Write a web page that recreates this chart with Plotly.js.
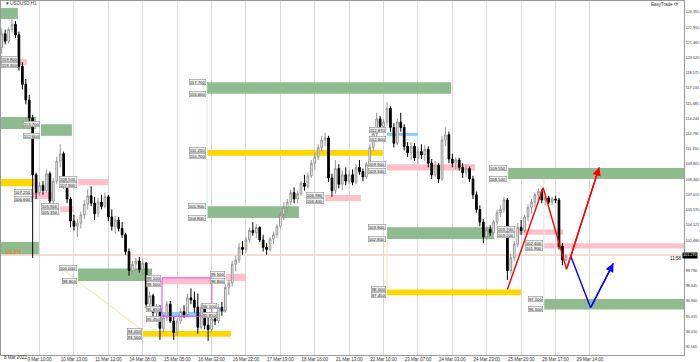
<!DOCTYPE html>
<html><head><meta charset="utf-8">
<script src="https://cdn.plot.ly/plotly-3.0.1.min.js"></script>
<style>html,body{margin:0;padding:0;background:#fff;overflow:hidden}#chart{width:700px;height:362px}</style>
</head><body><div id="chart"></div>
<script>
// ---- candle data (H1 chart, sampled) ----
const openP = [121.0,122.3,121.6,122.7,123.2,122.2,119.2,117.5,116.0,114.3,
108.9,107.2,107.9,107.4,109.0,106.4,108.3,110.2,110.9,108.0,
106.6,104.5,104.0,104.3,105.1,106.1,106.9,106.2,105.2,106.3,
105.9,106.8,104.9,104.0,104.6,103.8,103.2,101.6,99.8,100.4,
100.7,99.9,100.5,96.6,97.4,95.8,96.3,94.3,95.3,96.6,
95.0,93.9,95.0,95.9,95.6,97.2,97.0,96.3,94.4,96.3,
94.6,94.2,95.2,95.0,96.3,96.0,98.2,98.6,100.4,100.8,
102.0,101.8,102.7,103.6,103.4,103.9,102.7,102.0,101.8,102.8,
103.2,104.0,105.1,105.8,106.3,107.2,106.6,107.1,108.1,107.8,
108.8,110.0,110.6,111.5,112.2,112.4,108.6,107.4,109.5,108.0,
108.9,108.3,108.9,108.2,109.6,109.2,108.7,109.9,111.5,112.8,
114.2,113.5,113.9,115.2,113.4,111.9,113.9,113.4,111.6,111.0,
111.6,110.5,111.1,110.8,111.3,110.0,108.9,109.8,108.5,112.2,
112.7,110.4,110.0,110.3,109.6,109.1,109.5,108.5,107.0,105.6,
104.4,103.0,103.7,103.4,104.4,105.3,105.6,106.5,99.8,101.0,
102.3,103.9,103.6,104.9,105.8,106.3,107.0,107.3,106.5,106.7,
106.3,106.6,106.5,102.1,100.8];
const highP = [122.8,122.7,122.9,123.7,123.5,122.5,119.6,118.0,116.5,114.6,
109.1,108.2,108.3,109.4,109.2,108.6,110.6,111.8,111.1,108.3,
106.8,105.1,104.7,105.4,106.5,107.5,107.8,106.8,106.7,107.0,
107.2,107.0,105.6,105.0,104.9,104.4,103.4,101.9,100.7,101.0,
101.1,100.9,100.6,97.8,97.6,96.6,96.5,95.6,96.9,96.9,
95.4,95.3,96.2,96.5,97.6,98.1,97.8,97.6,96.7,96.5,
95.3,95.5,95.7,96.6,96.8,98.5,98.9,100.7,101.2,102.4,
102.6,103.0,103.9,104.4,104.2,104.0,103.2,102.4,103.0,103.5,
104.2,105.4,106.3,106.6,107.5,107.7,107.4,108.3,108.9,109.1,
110.3,111.0,111.8,112.6,112.9,112.6,109.0,110.3,109.9,109.3,
109.6,109.3,109.4,109.9,110.3,109.5,110.1,111.8,113.2,114.8,
114.5,114.2,115.8,115.4,113.8,114.2,114.8,113.7,112.0,112.0,
111.9,111.5,111.8,111.7,111.6,110.4,110.2,110.0,112.6,113.4,
113.0,110.9,110.6,110.5,110.0,109.9,109.7,108.8,107.3,106.0,
104.7,104.0,104.1,104.6,105.6,106.0,106.8,106.7,101.4,102.6,
104.3,104.6,105.1,106.1,106.6,107.2,107.6,107.5,106.9,106.9,
106.8,106.9,106.7,102.4,101.4];
const lowP = [120.4,121.3,121.4,122.4,121.9,118.8,117.0,115.6,113.9,101.0,
106.6,106.9,107.0,107.2,105.9,106.1,108.0,109.6,107.6,106.2,
103.9,103.6,103.0,103.8,104.7,105.6,105.9,104.6,104.9,105.6,
105.7,104.5,103.6,103.3,103.5,102.9,101.3,99.3,99.5,99.8,
99.6,99.4,96.2,96.0,95.4,95.2,93.2,93.9,95.0,94.8,
93.2,93.6,94.7,95.3,95.4,96.6,95.8,93.8,94.2,94.2,
93.1,93.9,94.6,94.8,95.5,95.8,97.5,98.3,99.7,100.5,
101.3,101.5,102.4,103.1,102.9,102.5,101.6,101.3,101.6,102.3,
102.9,103.8,104.6,105.3,106.0,106.2,106.2,106.9,107.4,107.6,
108.6,109.4,110.3,111.1,111.6,108.2,106.8,107.1,107.6,107.4,
107.9,108.0,107.9,108.0,108.9,108.3,108.5,109.7,111.2,112.5,
113.1,113.1,113.6,113.0,111.5,111.7,113.0,111.2,110.6,110.3,
110.2,109.9,110.4,110.2,109.6,108.5,108.7,108.1,108.3,111.6,
110.0,109.6,109.4,109.3,108.6,108.7,108.2,106.6,105.3,104.0,
102.4,102.7,103.1,103.2,104.1,104.9,105.3,98.9,99.5,100.7,
102.0,103.2,103.4,104.5,105.2,105.8,106.5,106.2,106.0,106.1,
106.0,106.2,101.8,100.3,100.7];
const closeP = [122.3,121.6,122.7,123.2,122.2,119.2,117.5,116.0,114.3,108.9,
107.2,107.9,107.4,109.0,106.4,108.3,110.2,110.9,108.0,106.6,
104.5,104.0,104.3,105.1,106.1,106.9,106.2,105.2,106.3,105.9,
106.8,104.9,104.0,104.6,103.8,103.2,101.6,99.8,100.4,100.7,
99.9,100.5,96.6,97.4,95.8,96.3,94.3,95.3,96.6,95.0,
93.9,95.0,95.9,95.6,97.2,97.0,96.3,94.4,96.3,94.6,
94.2,95.2,95.0,96.3,96.0,98.2,98.6,100.4,100.8,102.0,
101.8,102.7,103.6,103.4,103.9,102.7,102.0,101.8,102.8,103.2,
104.0,105.1,105.8,106.3,107.2,106.6,107.1,108.1,107.8,108.8,
110.0,110.6,111.5,112.2,112.4,108.6,107.4,109.5,108.0,108.9,
108.3,108.9,108.2,109.6,109.2,108.7,109.9,111.5,112.8,114.2,
113.5,113.9,115.2,113.4,111.9,113.9,113.4,111.6,111.0,111.6,
110.5,111.1,110.8,111.3,110.0,108.9,109.8,108.5,112.2,112.7,
110.4,110.0,110.3,109.6,109.1,109.5,108.5,107.0,105.6,104.4,
103.0,103.7,103.4,104.4,105.3,105.6,106.5,99.8,101.0,102.3,
103.9,103.6,104.9,105.8,106.3,107.0,107.3,106.5,106.7,106.3,
106.6,106.5,102.1,100.8,101.2];

// ---- axis labels ----
const priceTicks = [124.355,122.910,121.465,120.020,118.575,117.130,115.685,114.240,112.795,111.350,
109.905,108.460,107.015,105.570,104.125,102.680,99.790,98.345,96.900,95.455,94.010,92.565];
const dateTickBars = [11,21,31,41,51,61,71,81,91,101,111,121,131,141,151,161,171];
const dateLabels = ["9 Mar 10:00","10 Mar 13:00","11 Mar 12:00","14 Mar 08:00","15 Mar 05:00","16 Mar 02:00",
"16 Mar 22:00","17 Mar 19:00","18 Mar 16:00","21 Mar 13:00","22 Mar 10:00","23 Mar 07:00",
"24 Mar 03:00","24 Mar 23:00","25 Mar 20:00","28 Mar 17:00","29 Mar 14:00"];
const firstDateLabel = "8 Mar 2022";
const symbolTitle = "USOUSD,H1";
const bidPrice = 101.27;

// ---- supply / demand zones ----
const zoneX0 = [-0.5,1.8,-0.5,11.4,-0.5,9.1,22.2,17,-0.5,22.2,46.6,46.6,62.9,65.2,41.1,59.7,59.7,59.7,94,112,112,147.2,112,149.5,157.6,112,157.6];
const zoneX1 = [4.7,7.3,10,20.4,9.4,15.2,30.9,21,10.8,43.7,61.1,61.1,64.9,71,66.7,130.6,110.8,86.4,104.4,121,137.6,198.4,143.1,163.2,198.4,151,198.4];
const zoneTop = [124.75,119.9,114.4,113.7,108.5,107.25,108.5,105.9,102.5,100.0,99.1,95.85,96.1,99.5,94.05,117.7,111.25,105.9,106.98,112.87,109.9,109.55,103.9,103.7,102.4,98.0,97.1];
const zoneBot = [123.7,119.3,113.25,112.6,107.8,106.6,107.9,105.35,101.35,98.8,98.5,95.45,95.85,98.8,93.5,116.6,110.7,104.8,106.4,112.6,109.3,108.5,102.8,103.2,101.9,97.45,96.1];
const zoneKind = ['g','p','g','g','y','p','p','p','g','g','p','b','b','p','y','g','y','g','p','b','p','g','g','p','p','y','g'];
const zoneLabeled = [0,1,0,1,0,1,1,1,0,1,1,1,1,1,1,1,1,1,1,1,1,1,1,1,1,1,1];

// magenta box
const boxX = [46.6,61.1]; const boxY = [95.45,99.1];

// faint helper lines
const faintX0 = [16.9,112,59.7,157.6];
const faintY0 = [100.1,102.8,116.6,108.5];
const faintX1 = [41.1,112,59.7,157.6];
const faintY1 = [94.05,98.0,104.8,96.1];
const faintKind = ['y','y','g','g'];

// projection paths
const redX = [147.0,157.4,164.2,173.7];
const redY = [98.0,107.67,99.91,109.61];
const blueX = [165.4,171.2,177.8];
const blueY = [101.18,96.26,100.48];

// ---- styles ----
const zoneColor = {g:'#8fbc8f', p:'#ffc0cb', y:'#ffd700', b:'#87cefa'};
const faintColor = {y:'#f6e6a6', g:'#dcebdc'};
const FONT = 'Liberation Sans, Arial, sans-serif';
const X_RANGE = [-0.21, 198.34];
const PX_PER_PRICE = 354 / (125.418 - 91.768);
const PX_PER_BAR = 683 / (X_RANGE[1] - X_RANGE[0]);

const bars = openP.map((_, i) => i);

const traces = [{
  type:'candlestick', x: bars, open: openP, high: highP, low: lowP, close: closeP,
  increasing:{line:{color:'#959595', width:1}, fillcolor:'#ffffff'},
  decreasing:{line:{color:'#000000', width:1}, fillcolor:'#000000'},
  whiskerwidth:0, hoverinfo:'skip', showlegend:false
},{
  type:'scatter', mode:'lines', x: redX, y: redY, line:{color:'#ff0000', width:1.4}, hoverinfo:'skip', showlegend:false
},{
  type:'scatter', mode:'lines', x: blueX, y: blueY, line:{color:'#0000ff', width:1.4}, hoverinfo:'skip', showlegend:false
}];

const shapes = [];
zoneX0.forEach((x0, k) => {
  shapes.push({type:'rect', xref:'x', yref:'y', x0: x0, x1: zoneX1[k], y0: zoneBot[k], y1: zoneTop[k],
    fillcolor: zoneColor[zoneKind[k]], line:{width:0}, layer:'between'});
});
shapes.push({type:'rect', xref:'x', yref:'y', x0: boxX[0], x1: boxX[1], y0: boxY[0], y1: boxY[1],
  fillcolor:'rgba(0,0,0,0)', line:{color:'#ff33ff', width:1}, layer:'above'});
faintX0.forEach((x0, k) => {
  shapes.push({type:'line', xref:'x', yref:'y', x0: x0, y0: faintY0[k], x1: faintX1[k], y1: faintY1[k],
    line:{color: faintColor[faintKind[k]], width:1}, layer:'between'});
});
shapes.push({type:'line', xref:'paper', yref:'y', x0:0, x1:1, y0: bidPrice, y1: bidPrice,
  line:{color:'#f4b6a6', width:1}, layer:'between'});

const annotations = [];
zoneX0.forEach((x0, k) => {
  if (!zoneLabeled[k]) return;
  const thin = (zoneTop[k] - zoneBot[k]) * PX_PER_PRICE < 5;
  // labels that would run past the left edge are pinned inside it
  const nearEdge = (x0 - X_RANGE[0]) * PX_PER_BAR < 15;
  [zoneTop[k], zoneBot[k]].forEach((v, j) => {
    annotations.push({x: nearEdge ? 0 : x0, y: v, xref: nearEdge ? 'paper' : 'x', yref:'y', text: v.toFixed(3), showarrow:false,
      xanchor: nearEdge ? 'left' : 'right', yanchor: thin ? (j === 0 ? 'bottom' : 'top') : 'middle', xshift: nearEdge ? 0 : -1,
      font:{size:4.3, family:FONT, color:'#222'}, bgcolor:'#eeeeee', bordercolor:'#808080', borderwidth:0.5, borderpad:0.2});
  });
});
// arrow heads
const nR = redX.length - 1, nB = blueX.length - 1;
annotations.push({x: redX[nR], y: redY[nR], ax: redX[nR-1], ay: redY[nR-1], xref:'x', yref:'y', axref:'x', ayref:'y',
  text:'', showarrow:true, arrowhead:2, arrowsize:1.2, arrowwidth:1.4, arrowcolor:'#ff0000'});
annotations.push({x: blueX[nB], y: blueY[nB], ax: blueX[nB-1], ay: blueY[nB-1], xref:'x', yref:'y', axref:'x', ayref:'y',
  text:'', showarrow:true, arrowhead:2, arrowsize:1.2, arrowwidth:1.4, arrowcolor:'#0000ff'});
// texts
annotations.push({xref:'paper', yref:'paper', x:0.004, y:0.992, xanchor:'left', yanchor:'middle', showarrow:false,
  text:'▾ ' + symbolTitle, font:{size:4.5, family:FONT, color:'#333'}});
annotations.push({xref:'paper', yref:'paper', x:0.995, y:0.99, xanchor:'right', yanchor:'middle', showarrow:false,
  text:'EasyTrade ⟳', font:{size:4.5, family:FONT, color:'#333'}});
annotations.push({xref:'paper', yref:'paper', x:0.002, y:-0.008, xanchor:'left', yanchor:'middle', showarrow:false,
  text: firstDateLabel, font:{size:4.5, family:FONT, color:'#333'}});
annotations.push({xref:'paper', yref:'y', x:1.021, y: bidPrice, xanchor:'right', yanchor:'middle', showarrow:false,
  text: bidPrice.toFixed(3), font:{size:3.7, family:FONT, color:'#fff'}, bgcolor:'#000', borderpad:0.3});
annotations.push({xref:'paper', yref:'y', x:0.003, y: bidPrice + 0.25, xanchor:'left', yanchor:'middle', showarrow:false,
  text: bidPrice.toFixed(3), font:{size:4.5, family:FONT, color:'#ff6a00'}});
annotations.push({xref:'paper', yref:'y', x:0.998, y: bidPrice - 0.35, xanchor:'right', yanchor:'middle', showarrow:false,
  text:'11:58', font:{size:4.5, family:FONT, color:'#111'}});

const layout = {
  width:700, height:362, margin:{l:1, r:16, t:1, b:7},
  paper_bgcolor:'#ffffff', plot_bgcolor:'#ffffff', showlegend:false, hovermode:false,
  xaxis:{type:'linear', range: X_RANGE, rangeslider:{visible:false}, showgrid:true, gridcolor:'#d9d9d9', gridwidth:1,
    zeroline:false, showline:true, mirror:true, linecolor:'#9a9a9a', linewidth:1,
    tickmode:'array', tickvals: dateTickBars, ticktext: dateLabels, ticks:'', tickfont:{size:4.5, family:FONT, color:'#333'}},
  yaxis:{side:'right', range:[91.768, 125.418], showgrid:false, zeroline:false, showline:true, mirror:true,
    linecolor:'#9a9a9a', linewidth:1, tickmode:'array', tickvals: priceTicks, ticktext: priceTicks.map(v => v.toFixed(3)),
    ticks:'', ticklabelstandoff:0, tickfont:{size:3.7, family:FONT, color:'#333'}},
  shapes: shapes, annotations: annotations
};
Plotly.newPlot('chart', traces, layout, {staticPlot:true, displayModeBar:false});
</script>
</body></html>
